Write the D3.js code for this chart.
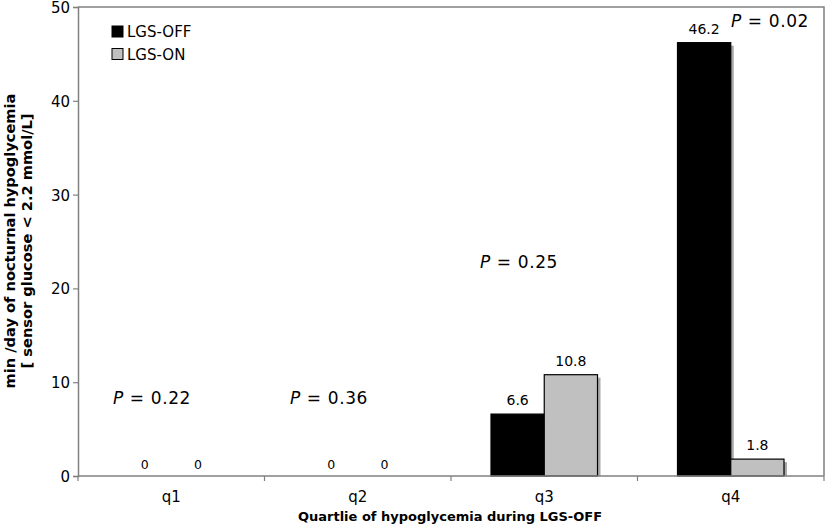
<!DOCTYPE html>
<html><head><meta charset="utf-8">
<script src="https://cdn.jsdelivr.net/npm/d3@7"></script>
<style>body{margin:0;background:#fff}svg{display:block;font-family:"DejaVu Sans",Verdana,sans-serif}</style>
</head><body><svg id="c" width="825" height="525"></svg>
<script>
const categories = ["q1","q2","q3","q4"];
const seriesNames = ["LGS-OFF","LGS-ON"];
const lgsOff = [0,0,6.6,46.2];
const lgsOn = [0,0,10.8,1.8];
const pValues = ["0.22","0.36","0.25","0.02"];
const yTicks = [0,10,20,30,40,50];

const svg = d3.select("#c");
const m = {l:78, r:824, t:7, b:476};
const x = d3.scaleBand().domain(categories).range([m.l, m.r]).paddingInner(0).paddingOuter(0);
const inner = d3.scaleBand().domain(seriesNames).range([40, x.bandwidth()-40]);
const y = d3.scaleLinear().domain([0,50]).range([m.b, m.t]);
const colors = {"LGS-OFF":"#000000","LGS-ON":"#c0c0c0"};

// frame top/right
svg.append("path").attr("d",`M${m.l},${m.t}H${m.r}V${m.b}`).attr("fill","none").attr("stroke","#808080").attr("stroke-width",1.5);

const data = categories.map((c,i)=>({c, vals:[{s:"LGS-OFF",v:lgsOff[i]},{s:"LGS-ON",v:lgsOn[i]}]}));
const g = svg.append("g");
data.forEach(d=>{
  d.vals.forEach(b=>{
    const bx = x(d.c)+inner(b.s), bw = inner.bandwidth();
    if (b.v>0){
      g.append("rect").attr("x",bx+3).attr("y",y(b.v)+3).attr("width",bw).attr("height",m.b-y(b.v)-3).attr("fill","#a8a8a8");
      g.append("rect").attr("x",bx).attr("y",y(b.v)).attr("width",bw).attr("height",m.b-y(b.v))
        .attr("fill",colors[b.s]).attr("stroke","#000").attr("stroke-width",1.2);
    }
    g.append("text").attr("x",bx+bw/2).attr("y",y(b.v)-(b.v===0?7:9)).attr("text-anchor","middle")
      .attr("font-size",b.v===0?12.5:14).attr("fill","#000").text(b.v===0?"0":b.v.toFixed(1));
  });
});

// axes
const ya = svg.append("g").attr("transform",`translate(${m.l},0)`)
  .call(d3.axisLeft(y).tickValues(yTicks).tickSize(5).tickPadding(3));
ya.select(".domain").attr("stroke","#808080").attr("stroke-width",1.5);
ya.selectAll(".tick line").attr("stroke","#808080").attr("stroke-width",1.2);
ya.selectAll("text").attr("font-size",15).attr("fill","#000").attr("font-family","DejaVu Sans").attr("dy","0.36em");

const xa = svg.append("g").attr("transform",`translate(0,${m.b})`);
xa.append("line").attr("x1",m.l).attr("x2",m.r).attr("stroke","#808080").attr("stroke-width",1.5);
const bounds = categories.map(c=>x(c)).concat([x(categories[categories.length-1])+x.bandwidth()]);
xa.selectAll(".tk").data(bounds).enter().append("line").attr("x1",d=>d).attr("x2",d=>d).attr("y1",0).attr("y2",5).attr("stroke","#808080").attr("stroke-width",1.2);
xa.selectAll(".lb").data(categories).enter().append("text").attr("x",d=>x(d)+x.bandwidth()/2).attr("y",26)
  .attr("text-anchor","middle").attr("font-size",15).attr("fill","#000").text(d=>d);

// axis titles
svg.append("text").attr("x",450).attr("y",521).attr("text-anchor","middle").attr("font-size",13).attr("font-weight","bold").text("Quartlie of hypoglycemia during LGS-OFF");
const yt = svg.append("text").attr("transform","translate(0,241) rotate(-90)").attr("text-anchor","middle").attr("font-size",14.6).attr("font-weight","bold");
yt.append("tspan").attr("x",0).attr("y",15).text("min /day of nocturnal hypoglycemia");
yt.append("tspan").attr("x",0).attr("y",32).text("[ sensor glucose < 2.2 mmol/L]");

// P values (anchor value on y-axis, offset inside band)
const pAnchor = [7.7, 7.7, 22.2, 47.9];
const pOffsets = [35, 25.5, 29, 93.5];
categories.forEach((c,i)=>{
  const t = svg.append("text").attr("x",x(c)+pOffsets[i]).attr("y",y(pAnchor[i])).attr("font-size",17).attr("letter-spacing",0.6).attr("fill","#000");
  t.append("tspan").attr("font-style","italic").text("P");
  t.append("tspan").text(" = "+pValues[i]);
});

// legend
const lg = svg.append("g").attr("transform","translate(112,26)");
seriesNames.forEach((s,i)=>{
  lg.append("rect").attr("x",0).attr("y",i*22.5).attr("width",11).attr("height",11).attr("fill",colors[s]).attr("stroke","#000").attr("stroke-width",1);
  lg.append("text").attr("x",15).attr("y",i*22.5+11).attr("font-size",15).attr("fill","#000").text(s);
});
</script></body></html>
